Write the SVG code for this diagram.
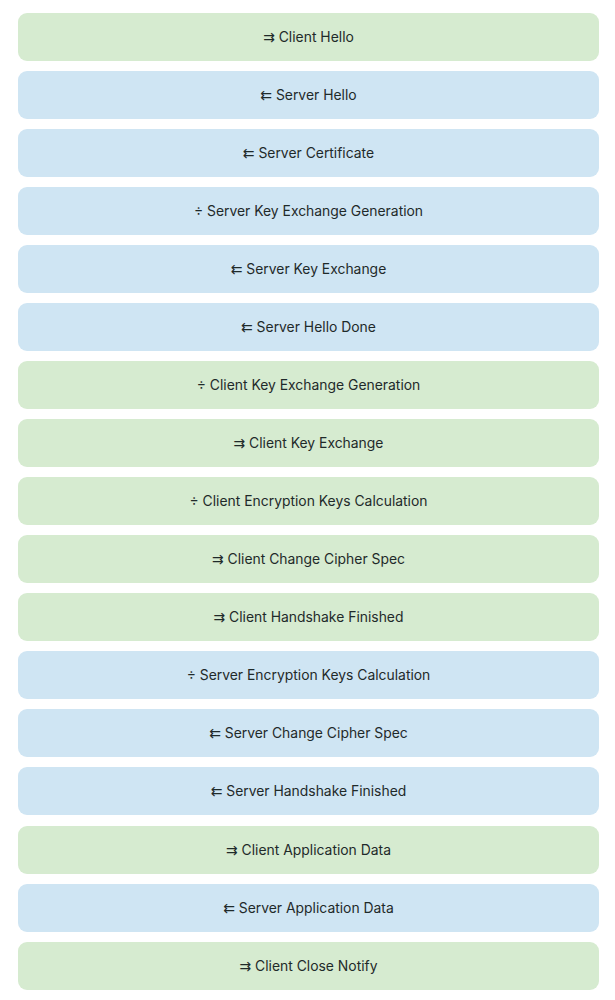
<svg xmlns="http://www.w3.org/2000/svg" width="615" height="1000" viewBox="0 0 615 1000">
  <style>
    .box rect { rx: 9px; ry: 9px; }
    .client rect { fill: #d6ebd0; }
    .server rect { fill: #cfe5f3; }
    .box text { font-family: Inter, "Noto Sans", "DejaVu Sans", sans-serif; font-size: 13.9px; fill: #1f2a2a; text-anchor: middle; dominant-baseline: central; }
  </style>
  <rect width="615" height="1000" fill="#ffffff"/>
  <g id="steps">
    <g id="client-hello" class="box client"><rect x="18" y="13" width="581" height="48"/><text x="308.5" y="36.5">⇉ Client Hello</text></g>
    <g id="server-hello" class="box server"><rect x="18" y="71" width="581" height="48"/><text x="308.5" y="94.5">⇇ Server Hello</text></g>
    <g id="server-certificate" class="box server"><rect x="18" y="129" width="581" height="48"/><text x="308.5" y="152.5">⇇ Server Certificate</text></g>
    <g id="server-key-exchange-generation" class="box server"><rect x="18" y="187" width="581" height="48"/><text x="308.5" y="210.5">÷ Server Key Exchange Generation</text></g>
    <g id="server-key-exchange" class="box server"><rect x="18" y="245" width="581" height="48"/><text x="308.5" y="268.5">⇇ Server Key Exchange</text></g>
    <g id="server-hello-done" class="box server"><rect x="18" y="303" width="581" height="48"/><text x="308.5" y="326.5">⇇ Server Hello Done</text></g>
    <g id="client-key-exchange-generation" class="box client"><rect x="18" y="361" width="581" height="48"/><text x="308.5" y="384.5">÷ Client Key Exchange Generation</text></g>
    <g id="client-key-exchange" class="box client"><rect x="18" y="419" width="581" height="48"/><text x="308.5" y="442.5">⇉ Client Key Exchange</text></g>
    <g id="client-encryption-keys" class="box client"><rect x="18" y="477" width="581" height="48"/><text x="308.5" y="500.5">÷ Client Encryption Keys Calculation</text></g>
    <g id="client-change-cipher-spec" class="box client"><rect x="18" y="535" width="581" height="48"/><text x="308.5" y="558.5">⇉ Client Change Cipher Spec</text></g>
    <g id="client-handshake-finished" class="box client"><rect x="18" y="593" width="581" height="48"/><text x="308.5" y="616.5">⇉ Client Handshake Finished</text></g>
    <g id="server-encryption-keys" class="box server"><rect x="18" y="651" width="581" height="48"/><text x="308.5" y="674.5">÷ Server Encryption Keys Calculation</text></g>
    <g id="server-change-cipher-spec" class="box server"><rect x="18" y="709" width="581" height="48"/><text x="308.5" y="732.5">⇇ Server Change Cipher Spec</text></g>
    <g id="server-handshake-finished" class="box server"><rect x="18" y="767" width="581" height="48"/><text x="308.5" y="790.5">⇇ Server Handshake Finished</text></g>
    <g id="client-application-data" class="box client"><rect x="18" y="826" width="581" height="48"/><text x="308.5" y="849.5">⇉ Client Application Data</text></g>
    <g id="server-application-data" class="box server"><rect x="18" y="884" width="581" height="48"/><text x="308.5" y="907.5">⇇ Server Application Data</text></g>
    <g id="client-close-notify" class="box client"><rect x="18" y="942" width="581" height="48"/><text x="308.5" y="965.5">⇉ Client Close Notify</text></g>
  </g>
  <g id="connectors"></g>
</svg>
